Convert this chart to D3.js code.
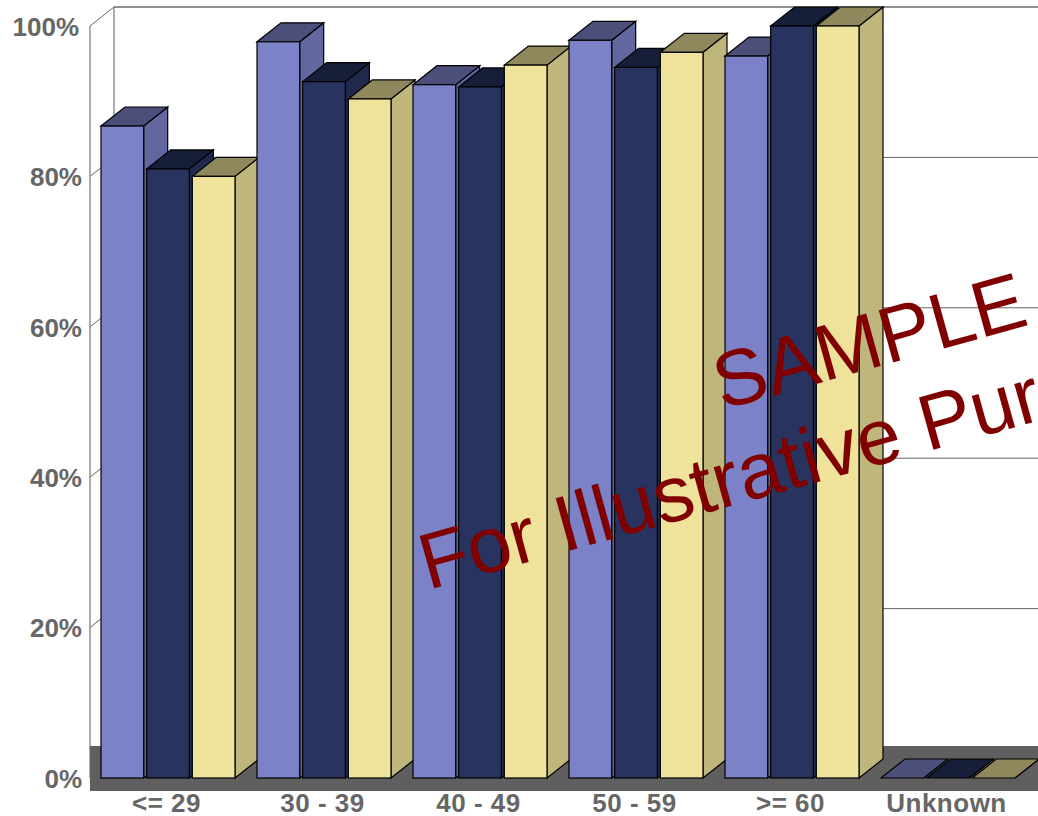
<!DOCTYPE html>
<html>
<head>
<meta charset="utf-8">
<script src="https://cdn.jsdelivr.net/npm/d3@7/dist/d3.min.js"></script>
<style>
  html, body { margin: 0; padding: 0; background: #fff; overflow: hidden; }
  svg { display: block; }
  text { font-family: "Liberation Sans", Arial, sans-serif; }
</style>
</head>
<body>
<script>
// Age bands and the three series drawn for each of them
const categories = ["<= 29", "30 - 39", "40 - 49", "50 - 59", ">= 60", "Unknown"];
const seriesNames = ["a", "b", "c"];
const seriesA = [86.7, 97.9, 92.2, 98.1, 96, 0];
const seriesB = [81, 92.6, 91.9, 94.5, 100, 0];
const seriesC = [80, 90.3, 94.8, 96.5, 100, 0];
const allSeries = [seriesA, seriesB, seriesC];
const yTicks = [0, 20, 40, 60, 80, 100];

const fronts = ["#7b82c8", "#29335f", "#efe29b"];
const sides = ["#62689f", "#20294c", "#bfb67c"];
const tops = ["#4b4f7a", "#171e39", "#8f885d"];

const W = 1038, H = 816;
const depthX = 24, depthY = 19;
const left = 90;

const y = d3.scaleLinear().domain([0, 100]).range([778, 26]);
const x0 = d3.scaleBand().domain(categories).range([left, left + 156 * 6]);
const x1 = d3.scaleBand().domain(seriesNames).range([11, 145]).paddingInner(0.065);

const svg = d3.select("body").append("svg").attr("width", W).attr("height", H);

// Back wall and side wall outlines
const walls = svg.append("g").attr("fill", "none").attr("stroke", "#777").attr("stroke-width", 1.2);
walls.append("line").attr("x1", left + depthX).attr("x2", W)
  .attr("y1", y(100) - depthY).attr("y2", y(100) - depthY);
walls.append("line").attr("x1", left + depthX).attr("x2", left + depthX)
  .attr("y1", y(100) - depthY).attr("y2", y(0) - 32);
walls.append("line").attr("x1", left).attr("x2", left)
  .attr("y1", y(100)).attr("y2", y(0));

// Gridlines on the back wall and their diagonals on the side wall
const grid = svg.append("g").attr("fill", "none").attr("stroke", "#666").attr("stroke-width", 1);
yTicks.filter(t => t > 0).forEach(t => {
  grid.append("path").attr("d", d3.line()([
    [left, y(t)], [left + depthX, y(t) - depthY], [W, y(t) - depthY]
  ]));
});

// Floor slab
svg.append("rect")
  .attr("x", left).attr("y", y(0) - 32)
  .attr("width", W - left).attr("height", 45)
  .attr("fill", "#5f5f5f");

// Extruded bars, painted group by group so nearer faces cover farther ones
const barsLayer = svg.append("g").attr("stroke", "#000").attr("stroke-width", 1.2).attr("stroke-linejoin", "miter");
categories.forEach((cat, ci) => {
  seriesNames.forEach((name, si) => {
    const value = allSeries[si][ci];
    const xa = x0(cat) + x1(name);
    const xb = xa + x1.bandwidth();
    const yt = y(value), yb = y(0);
    const g = barsLayer.append("g");
    g.append("polygon").attr("fill", sides[si]).attr("points", [
      [xb, yt], [xb + depthX, yt - depthY], [xb + depthX, yb - depthY], [xb, yb]
    ].join(" "));
    g.append("polygon").attr("fill", tops[si]).attr("points", [
      [xa, yt], [xa + depthX, yt - depthY], [xb + depthX, yt - depthY], [xb, yt]
    ].join(" "));
    g.append("rect").attr("x", xa).attr("y", yt)
      .attr("width", xb - xa).attr("height", yb - yt)
      .attr("fill", fronts[si]);
  });
});

// Axis labels only: the walls and gridlines above carry the lines
const yAxis = d3.axisLeft(y).tickValues(yTicks).tickFormat(d => d + "%").tickSize(0).tickPadding(8);
const yG = svg.append("g").attr("transform", `translate(${left},0)`).call(yAxis);
const xAxis = d3.axisBottom(x0).tickSize(0).tickPadding(0);
const xG = svg.append("g").attr("transform", "translate(-1.5,790.5)").call(xAxis);
[yG, xG].forEach(g => {
  g.select(".domain").remove();
  g.selectAll("text")
    .attr("fill", "#666")
    .style("font-family", '"Liberation Sans", Arial, sans-serif')
    .style("font-size", "26px")
    .style("font-weight", "bold");
});
xG.selectAll("text").attr("y", 3).style("letter-spacing", "0.5px");
yG.selectAll("text").attr("dy", "0.36em");
// The widest label sits a little further from the wall
yG.selectAll("text").filter(d => d === 100).attr("dx", -3);

// Rotated overlay text, clipped by the page edge
const stamp = svg.append("g").attr("fill", "#800000").style("font-size", "79px");
stamp.append("text").attr("transform", "translate(722,410) rotate(-15.5)").text("SAMPLE");
stamp.append("text").attr("transform", "translate(428,590) rotate(-15.5)").text("For Illustrative Purposes Only");
</script>
</body>
</html>
